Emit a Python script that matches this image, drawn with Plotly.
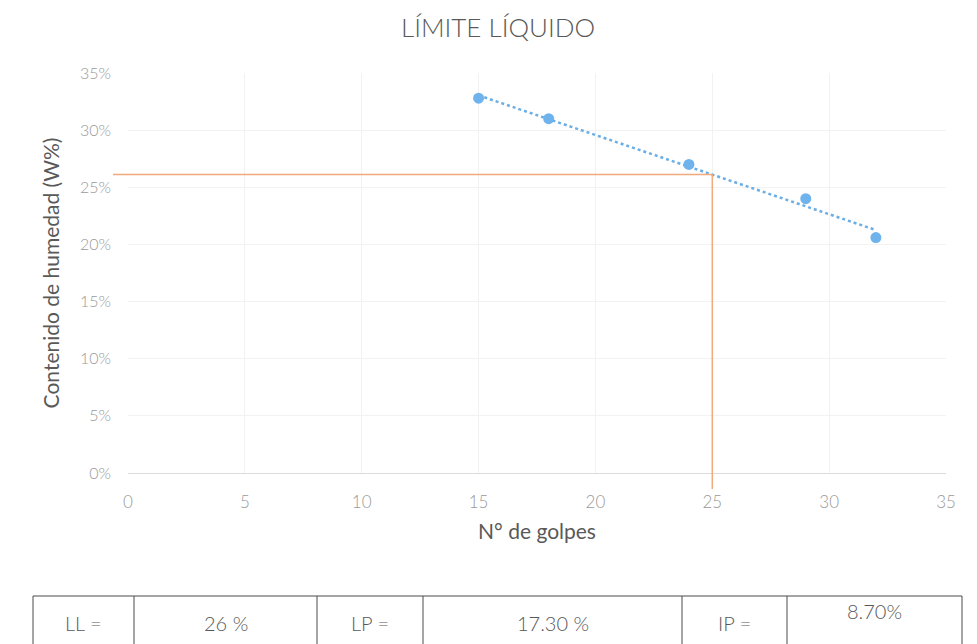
import numpy as np
import plotly.graph_objects as go

# Liquid limit test: blow counts and measured moisture content (%)
golpes = [15, 18, 24, 29, 32]
humedad = [32.8, 31.0, 27.0, 24.0, 20.6]

x_ticks = [0, 5, 10, 15, 20, 25, 30, 35]
y_ticks = [0, 5, 10, 15, 20, 25, 30, 35]
y_tick_text = ["0%", "5%", "10%", "15%", "20%", "25%", "30%", "35%"]

# Summary table labels and values
tabla_etiquetas = ["LL =", "LP =", "IP ="]
LP = 17.30
N_REF = 25  # blow count that defines the liquid limit
X_MAX = 35
Y_MAX = 35

# Linear trend through the test points
pend, inter = np.polyfit(golpes, humedad, 1)
trend_x = [min(golpes), max(golpes)]
trend_y = [inter + pend * v for v in trend_x]
LL = inter + pend * N_REF
LL_r = round(LL)
IP = LL_r - LP
tabla_valores = [f"{LL_r:.0f} %", f"{LP:.2f} %", f"{IP:.2f}%"]

W, H = 977, 644
L, R, T, B = 128, 31, 73, 171
PW, PH = W - L - R, H - T - B


def px(x):
    return (x - L) / PW


def py(y):
    return (H - B - y) / PH


GRIS_TXT = "#595959"
GRIS_TICK = "#9a9a9a"
NARANJA = "#F2A97C"
AZUL = "#6FB3EC"
FONT = "Lato"

fig = go.Figure()

fig.add_trace(go.Scatter(
    x=trend_x, y=trend_y, mode="lines",
    line=dict(color="#6AAEE6", width=2.5, dash="dot"),
    hoverinfo="skip", showlegend=False,
))
fig.add_trace(go.Scatter(
    x=golpes, y=humedad, mode="markers",
    marker=dict(color=AZUL, size=11),
    showlegend=False,
))

# Liquid-limit guide lines at N = 25 (they run a little past the axes)
fig.add_shape(type="line", xref="paper", yref="y",
              x0=px(113), x1=N_REF / X_MAX, y0=LL, y1=LL,
              line=dict(color=NARANJA, width=1.5))
fig.add_shape(type="line", xref="x", yref="paper",
              x0=N_REF, x1=N_REF, y0=py(489), y1=LL / Y_MAX,
              line=dict(color=NARANJA, width=1.5))

# Summary table under the chart
cols = [33, 134, 317, 423, 682, 787, 962]
top, bot = 596, 660
borde = dict(color="#4a4a4a", width=1)
fig.add_shape(type="line", xref="paper", yref="paper",
              x0=px(cols[0]), x1=px(cols[-1]), y0=py(top), y1=py(top), line=borde)
for c in cols:
    fig.add_shape(type="line", xref="paper", yref="paper",
                  x0=px(c), x1=px(c), y0=py(top), y1=py(bot), line=borde)

for i, (et, val) in enumerate(zip(tabla_etiquetas, tabla_valores)):
    xa = (cols[2 * i] + cols[2 * i + 1]) / 2
    xb = (cols[2 * i + 1] + cols[2 * i + 2]) / 2
    fig.add_annotation(x=px(xa), y=py(623), xref="paper", yref="paper",
                       xanchor="center", yanchor="middle",
                       text=et, showarrow=False,
                       font=dict(family=FONT, size=20, color=GRIS_TXT, weight=300))
    yv = 611 if i == 2 else 623
    fig.add_annotation(x=px(xb), y=py(yv), xref="paper", yref="paper",
                       xanchor="center", yanchor="middle",
                       text=val, showarrow=False,
                       font=dict(family=FONT, size=20, color=GRIS_TXT, weight=300))

fig.update_layout(
    width=W, height=H,
    margin=dict(l=L, r=R, t=T, b=B),
    paper_bgcolor="white", plot_bgcolor="white",
    title=dict(text="LÍMITE LÍQUIDO", x=498 / W, xref="container", xanchor="center",
               y=1 - 28 / H, yref="container", yanchor="middle",
               font=dict(family=FONT, size=26, color=GRIS_TXT, weight=300)),
    xaxis=dict(
        range=[0, X_MAX], tickvals=x_ticks, showgrid=True, gridcolor="#f2f2f2",
        zeroline=False, showline=True, linecolor="#dcdcdc", ticks="",
        ticklabelstandoff=14,
        tickfont=dict(family=FONT, size=17, color=GRIS_TICK, weight=300),
        title=dict(text="N° de golpes", standoff=12,
                   font=dict(family=FONT, size=21, color=GRIS_TXT)),
    ),
    yaxis=dict(
        range=[0, Y_MAX], tickvals=y_ticks, ticktext=y_tick_text, showgrid=True,
        gridcolor="#f2f2f2", zeroline=False, showline=False, ticks="",
        ticklabelstandoff=16,
        tickfont=dict(family=FONT, size=16, color=GRIS_TICK, weight=300),
        title=dict(text="Contenido de humedad (W%)", standoff=14,
                   font=dict(family=FONT, size=21, color=GRIS_TXT)),
    ),
)

fig.write_html("out.html")
